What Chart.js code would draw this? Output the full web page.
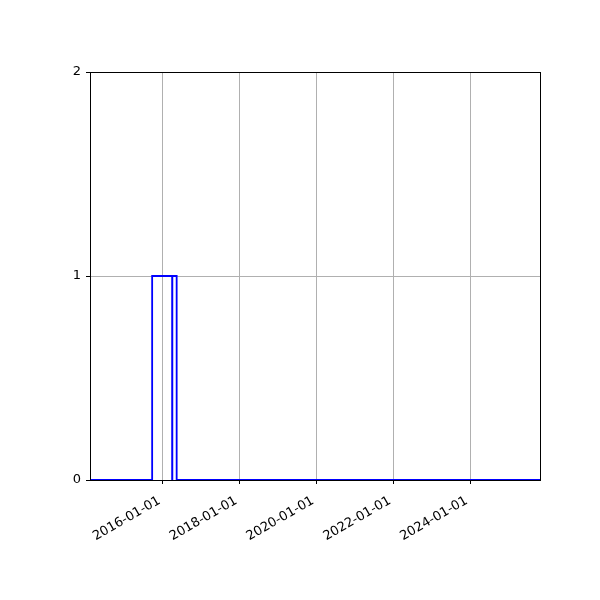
<!DOCTYPE html>
<html>
<head>
<meta charset="utf-8">
<script src="https://cdn.jsdelivr.net/npm/chart.js@4/dist/chart.umd.min.js"></script>
<style>
  html, body { margin: 0; padding: 0; background: #fff; }
  canvas { display: block; }
</style>
</head>
<body>
<canvas id="chart" width="600" height="600"></canvas>
<script>
// step data: the value holds from its date until the next date
var stepDates = ["2014-02-06", "2015-09-20", "2016-03-28", "2016-03-30", "2016-05-10", "2025-10-25"];
var stepValues = [0, 1, 0, 1, 0, 0];
var tickDates = ["2016-01-01", "2018-01-01", "2020-01-01", "2022-01-01", "2024-01-01"];
var yTicks = [0, 1, 2];
var xMinDate = "2014-02-06";
var xMaxDate = "2025-10-25";

function toMs(s) {
    var p = s.split("-");
    return Date.UTC(+p[0], +p[1] - 1, +p[2]);
}

function fmt(ms) {
    var d = new Date(ms);
    var m = d.getUTCMonth() + 1, day = d.getUTCDate();
    return d.getUTCFullYear() + "-" + (m < 10 ? "0" + m : m) + "-" + (day < 10 ? "0" + day : day);
}

var points = stepDates.map(function (s, i) {
    return { x: toMs(s), y: stepValues[i] };
});

// box around the plot area like the reference frame
var frame = {
    id: "frame",
    afterDraw: function (chart) {
        var a = chart.chartArea, c = chart.ctx;
        c.save();
        c.strokeStyle = "#000";
        c.lineWidth = 1;
        c.strokeRect(Math.round(a.left) + 0.5, Math.round(a.top) + 0.5, Math.round(a.right - a.left), Math.round(a.bottom - a.top));
        c.restore();
    }
};

Chart.defaults.font.family = "'DejaVu Sans', sans-serif";
Chart.defaults.font.size = 13;
Chart.defaults.color = "#000";

new Chart(document.getElementById("chart").getContext("2d"), {
    type: "line",
    data: {
        datasets: [{
            data: points,
            stepped: true,
            borderColor: "#0000ff",
            borderWidth: 1.8,
            pointRadius: 0,
            fill: false
        }]
    },
    options: {
        responsive: false,
        animation: false,
        devicePixelRatio: 1,
        layout: { padding: { left: 0, right: 60, top: 72, bottom: 0 } },
        plugins: { legend: { display: false }, tooltip: { enabled: false } },
        scales: {
            x: {
                type: "linear",
                min: toMs(xMinDate),
                max: toMs(xMaxDate),
                afterBuildTicks: function (scale) {
                    scale.ticks = tickDates.map(function (s) { return { value: toMs(s) }; });
                },
                afterFit: function (scale) { scale.height = 120; },
                ticks: {
                    minRotation: 30,
                    maxRotation: 30,
                    padding: 7,
                    // trailing space nudges the rotated label left like the reference
                    callback: function (v) { return fmt(v) + " "; }
                },
                grid: { color: "#b0b0b0", tickColor: "#000", tickLength: 4, lineWidth: 1 },
                border: { display: false }
            },
            y: {
                min: 0,
                max: 2,
                afterBuildTicks: function (scale) {
                    scale.ticks = yTicks.map(function (v) { return { value: v }; });
                },
                afterFit: function (scale) { scale.width = 90; },
                ticks: { padding: 5 },
                grid: { color: "#b0b0b0", tickColor: "#000", tickLength: 4, lineWidth: 1 },
                border: { display: false }
            }
        }
    },
    plugins: [frame]
});
</script>
</body>
</html>
